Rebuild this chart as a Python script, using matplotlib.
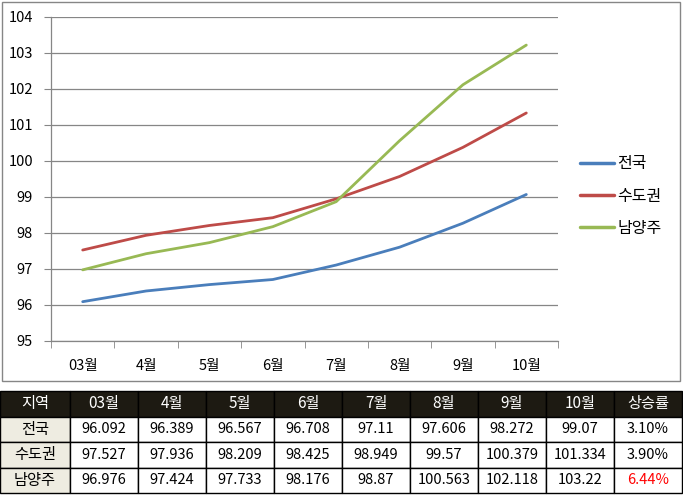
import matplotlib
matplotlib.use("Agg")
import matplotlib.pyplot as plt
from matplotlib.patches import Rectangle

plt.rcParams['font.family'] = ['Noto Sans CJK KR', 'DejaVu Sans']

months = ['03월', '4월', '5월', '6월', '7월', '8월', '9월', '10월']
regions = ['전국', '수도권', '남양주']
nation = [96.092, 96.389, 96.567, 96.708, 97.11, 97.606, 98.272, 99.07]
capital = [97.527, 97.936, 98.209, 98.425, 98.949, 99.57, 100.379, 101.334]
namyangju = [96.976, 97.424, 97.733, 98.176, 98.87, 100.563, 102.118, 103.22]
rates = ['3.10%', '3.90%', '6.44%']
colors = ['#4A7EBB', '#BE4B48', '#98B954']

W, H = 683, 497
fig = plt.figure(figsize=(W / 100, H / 100), dpi=100)

# chart frame
fig.patches.append(Rectangle((2 / W, 1 - 381 / H), 678 / W, 379 / H,
                             transform=fig.transFigure, fill=False,
                             edgecolor='#868686', lw=1.0))

ax = fig.add_axes([51 / W, 1 - 341 / H, 507 / W, 324 / H])
x = list(range(len(months)))
for vals, c, name in zip([nation, capital, namyangju], colors, regions):
    ax.plot(x, vals, color=c, lw=2.0, label=name, solid_capstyle='round')

ax.set_xlim(-0.5, len(months) - 0.5)
ax.set_ylim(95, 104)
ax.set_yticks(range(95, 105))
ax.set_xticks(x)
ax.set_xticklabels(months, fontsize=10.5)
ax.set_xticks([i - 0.5 for i in range(len(months) + 1)], minor=True)
ax.tick_params(axis='x', which='major', length=0, pad=13)
ax.tick_params(axis='x', which='minor', length=5, color='#868686', direction='out')
ax.tick_params(axis='y', length=5, color='#868686', direction='out', labelsize=10.5, pad=8)
ax.yaxis.grid(True, color='#868686', lw=0.9)
ax.set_axisbelow(True)
for s in ['top', 'right']:
    ax.spines[s].set_visible(False)
for s in ['left', 'bottom']:
    ax.spines[s].set_color('#868686')
    ax.spines[s].set_linewidth(0.9)

leg = ax.legend(loc='center left', bbox_to_anchor=((580 - 51) / 507, (341 - 196) / 324),
                frameon=False, borderaxespad=0, borderpad=0,
                fontsize=11.5, handlelength=2.1, handletextpad=0.25, labelspacing=0.95)
for h in leg.get_lines():
    h.set_linewidth(2.5)

# table
header = ['지역'] + months + ['상승률']
cell_text = []
for r, vals, rate in zip(regions, [nation, capital, namyangju], rates):
    cell_text.append([r] + [f'{v:g}' for v in vals] + [rate])

tax = fig.add_axes([0, 0, 1, 1])
tax.axis('off')
col_w = [70] + [68] * 9
tot = sum(col_w)
tb = tax.table(cellText=cell_text, colLabels=header,
               colWidths=[c / tot for c in col_w],
               bbox=[0, 1 - 493 / H, tot / W, 102 / H], cellLoc='center')
tb.auto_set_font_size(False)
for (r, c), cell in tb.get_celld().items():
    cell.set_edgecolor('black')
    cell.set_linewidth(1.0)
    cell.get_text().set_fontsize(10.5)
    if r == 0:
        cell.set_facecolor('#1D1A12')
        cell.get_text().set_color('white')
        cell.get_text().set_fontsize(11)
    elif c == 0:
        cell.set_facecolor('#EEECE1')
        cell.get_text().set_fontsize(11)
    else:
        cell.set_facecolor('white')
tb[3, 9].get_text().set_color('#FF0000')

fig.savefig('out.png', dpi=100)
